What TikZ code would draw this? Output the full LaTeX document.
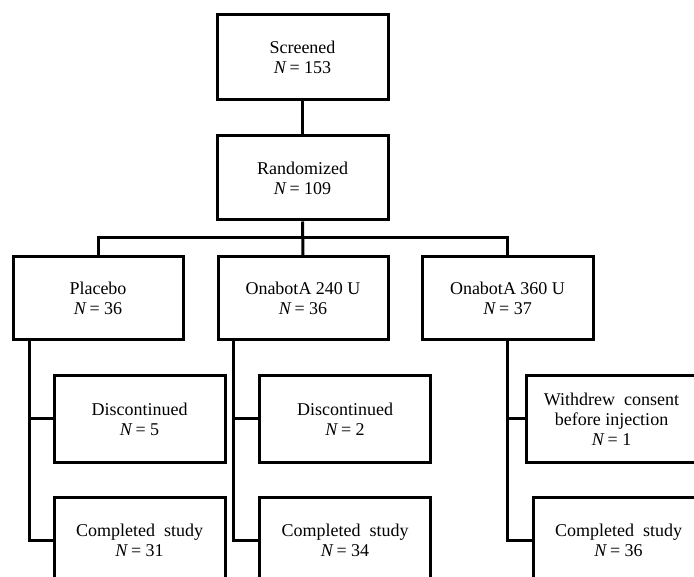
\documentclass[tikz,border=0pt]{standalone}
\usepackage{fontspec}
\setmainfont{Liberation Serif}
\usepackage{tikz}

\tikzset{
	flowbox/.style={draw=black, line width=3pt, fill=white, align=center,
		minimum width=171pt, minimum height=85pt, inner sep=2pt,
		font=\fontsize{18}{20}\selectfont},
	link/.style={draw=black, line width=3pt}
}

\begin{document}
\begin{tikzpicture}[x=1pt, y=-1pt]
	\clip (0,0) rectangle (694,577);
	\fill[white] (0,0) rectangle (694,577);
	% top of the chart
	\node[flowbox] (screened) at (302.5,57.5) {Screened\\\textit{N}\,= 153};
	\node[flowbox, minimum height=84pt] (randomized) at (302.5,178) {Randomized\\\textit{N}\,= 109};
	% arms
	\node[flowbox, minimum width=170pt, minimum height=83pt] (placebo) at (98,298.5) {Placebo\\\textit{N}\,= 36};
	\node[flowbox, minimum width=170pt, minimum height=83pt] (dose240) at (303,298.5) {OnabotA 240 U\\\textit{N}\,= 36};
	\node[flowbox, minimum height=83pt] (dose360) at (507.5,298.5) {OnabotA 360 U\\\textit{N}\,= 37};
	% outcomes
	\node[flowbox, minimum height=86pt] (disc1) at (139.5,419) {Discontinued\\\textit{N}\,= 5};
	\node[flowbox, minimum height=86pt] (comp1) at (139.5,540) {Completed\ \ study\\\textit{N}\,= 31};
	\node[flowbox, minimum height=86pt] (disc2) at (345,419) {Discontinued\\\textit{N}\,= 2};
	\node[flowbox, minimum height=86pt] (comp2) at (345,540) {Completed\ \ study\\\textit{N}\,= 34};
	\node[flowbox, minimum height=86pt] (withdrew) at (611.5,419) {Withdrew\ \ consent\\before injection\\\textit{N}\,= 1};
	\node[flowbox, minimum height=86pt] (comp3) at (618.5,540) {Completed\ \ study\\\textit{N}\,= 36};

	\coordinate (trunk1) at ([xshift=18pt]placebo.south west);
	\coordinate (trunk2) at ([xshift=17pt]dose240.south west);

	\draw[link] (screened) -- (randomized);
	\draw[link] (randomized) -- (dose240);
	\draw[link] (placebo.north) -- ++(0,-18) -| (dose360.north);
	\draw[link] (trunk1) |- (disc1.west);
	\draw[link] (trunk1) |- (comp1.west);
	\draw[link] (trunk2) |- (disc2.west);
	\draw[link] (trunk2) |- (comp2.west);
	\draw[link] (dose360.south) |- (withdrew.west);
	\draw[link] (dose360.south) |- (comp3.west);
\end{tikzpicture}
\end{document}
